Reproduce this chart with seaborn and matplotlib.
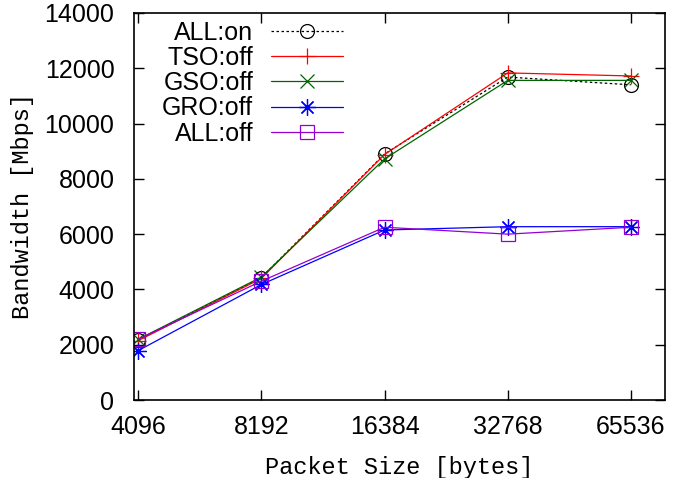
import pandas as pd
import matplotlib.pyplot as plt
import seaborn as sns

# Datos
packet_sizes = [4096, 8192, 16384, 32768, 65536]
all_on = [2170, 4430, 8900, 11680, 11400]
tso_off = [2150, 4400, 8880, 11830, 11720]
gso_off = [2200, 4450, 8720, 11560, 11560]
gro_off = [1790, 4180, 6150, 6270, 6270]
all_off = [2200, 4300, 6250, 6000, 6250]

series = {
    "ALL:on": all_on,
    "TSO:off": tso_off,
    "GSO:off": gso_off,
    "GRO:off": gro_off,
    "ALL:off": all_off,
}

df = pd.DataFrame({"Packet Size": packet_sizes, **series})

sns.set_style("ticks")
plt.rcParams["font.family"] = ["Liberation Sans", "DejaVu Sans"]
plt.rcParams["xtick.direction"] = "in"
plt.rcParams["ytick.direction"] = "in"
plt.rcParams["text.color"] = "black"
plt.rcParams["axes.labelcolor"] = "black"
plt.rcParams["axes.edgecolor"] = "black"
plt.rcParams["xtick.color"] = "black"
plt.rcParams["ytick.color"] = "black"

estilos = {
    "ALL:on": dict(color="black", marker="o", linestyle=(0, (2, 2)), ms=10),
    "TSO:off": dict(color="#ff0000", marker="+", linestyle="-", ms=12),
    "GSO:off": dict(color="#006400", marker="x", linestyle="-", ms=10),
    "GRO:off": dict(color="#0000ff", marker=(8, 2, 0), linestyle="-", ms=12),
    "ALL:off": dict(color="#9400d3", marker="s", linestyle="-", ms=10),
}

fig = plt.figure(figsize=(6.94, 4.78), dpi=100)
ax = fig.add_axes([0.193, 0.163, 0.765, 0.81])

for name in series:
    st = estilos[name]
    sns.lineplot(data=df, x="Packet Size", y=name, ax=ax, label=name,
                 color=st["color"], marker=st["marker"], linestyle=st["linestyle"],
                 markersize=st["ms"], markerfacecolor="none",
                 markeredgecolor=st["color"], markeredgewidth=0.9, linewidth=0.9)

ax.set_xscale("log", base=2)
ax.set_xlim(4096 * 2 ** -0.035, 65536 * 2 ** 0.276)
ax.set_ylim(0, 14000)
ax.set_xticks(packet_sizes)
ax.set_xticklabels([str(p) for p in packet_sizes])
ax.minorticks_off()
ax.set_yticks(range(0, 14001, 2000))
ax.tick_params(axis="both", labelsize=18, length=7, width=1,
               top=True, right=True, colors="black")
ax.tick_params(axis="x", pad=11)
ax.tick_params(axis="y", pad=14)
for s in ax.spines.values():
    s.set_linewidth(1.2)
    s.set_color("black")

ax.set_xlabel("Packet Size [bytes]", fontsize=17, family="Liberation Mono", labelpad=12)
ax.set_ylabel("Bandwidth [Mbps]", fontsize=17, family="Liberation Mono", labelpad=8)

ax.legend(loc="upper left", bbox_to_anchor=(0.02, 1.025), frameon=False, markerfirst=False,
          fontsize=18, labelspacing=0.05, handlelength=2.9, handletextpad=0.7,
          borderaxespad=0.3)

plt.savefig("out.png", dpi=100)
